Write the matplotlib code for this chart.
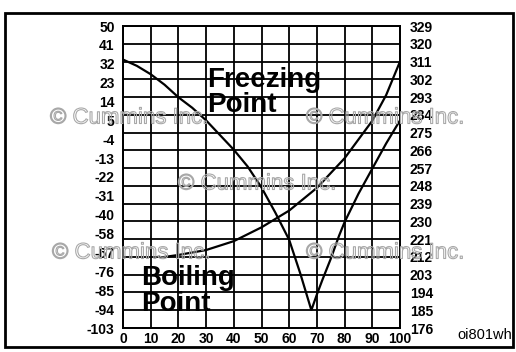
import numpy as np
import matplotlib
matplotlib.use("Agg")
import matplotlib.pyplot as plt
import matplotlib.patheffects as pe
from matplotlib.patches import Rectangle

# Glycol concentration (percent)
x_ticks = [0, 10, 20, 30, 40, 50, 60, 70, 80, 90, 100]

# Left axis: freezing point, degrees F (note the uneven -40 / -58 step)
left_ticks = [50, 41, 32, 23, 14, 5, -4, -13, -22, -31, -40, -58, -67, -76, -85, -94, -103]
# Right axis: boiling point, degrees F
right_ticks = [329, 320, 311, 302, 293, 284, 275, 266, 257, 248, 239, 230, 221, 212, 203, 194, 185, 176]

# Freezing point curve
freeze_pct = [0, 5, 10, 15, 20, 25, 30, 35, 40, 45, 50, 55, 60, 64, 68,
              70, 72, 75, 78, 80, 85, 90, 95, 100]
freeze_f = [34, 31, 27, 22, 16, 11, 5, -2, -9, -17, -27, -39, -61, -77, -94.5,
            -87, -80, -70, -59, -47, -30, -18, -6, 5]

# Boiling point curve
boil_pct = [15, 20, 30, 40, 50, 60, 70, 80, 90, 95, 100]
boil_f = [212, 213, 215.5, 220, 227, 235.5, 247, 262, 281, 294, 311]

W, H = 516, 352
fig = plt.figure(figsize=(W / 100, H / 100), dpi=100)
fig.patch.set_facecolor("white")

FONT = "Liberation Sans"


def px(x, y):
    return x / W, 1 - y / H


# Left axis scale: evenly spaced labels regardless of value step
vals_inc = np.array(left_ticks[::-1], dtype=float)
idx_inc = np.arange(len(vals_inc), dtype=float)


def fwd(v):
    return np.interp(v, vals_inc, idx_inc)


def inv(p):
    return np.interp(p, idx_inc, vals_inc)


ax = fig.add_axes([123 / W, 1 - 328 / H, 277 / W, 302 / H])
ax.set_yscale("function", functions=(fwd, inv))
ax.set_ylim(-103, 50)
ax.set_xlim(0, 100)
ax.set_yticks(left_ticks)
ax.set_yticklabels([str(v) for v in left_ticks])
ax.set_xticks(x_ticks)
ax.set_xticklabels([str(v) for v in x_ticks])
ax.tick_params(axis="both", length=0, labelsize=10)
ax.tick_params(axis="y", pad=6)
ax.tick_params(axis="x", pad=3)
for lab in ax.get_yticklabels() + ax.get_xticklabels():
    lab.set_fontfamily(FONT)
    lab.set_fontweight("bold")
ax.grid(True, axis="x", color="black", linewidth=1.3)
for s in ax.spines.values():
    s.set_linewidth(1.3)

ax.plot(freeze_pct, freeze_f, color="black", linewidth=1.6, solid_joinstyle="miter")

ax2 = ax.twinx()
ax2.set_ylim(176, 329)
ax2.set_yticks(right_ticks)
ax2.set_yticklabels([str(v) for v in right_ticks])
ax2.tick_params(axis="y", length=0, labelsize=10, pad=7)
for lab in ax2.get_yticklabels():
    lab.set_fontfamily(FONT)
    lab.set_fontweight("bold")
ax2.grid(True, axis="y", color="black", linewidth=1.3)
for s in ax2.spines.values():
    s.set_linewidth(1.3)
ax2.plot(boil_pct, boil_f, color="black", linewidth=1.6)

# Curve captions
big = dict(fontsize=20, fontweight="bold", family=FONT, va="baseline", ha="left")
fig.text(*px(207, 87), "Freezing", **big)
fig.text(*px(207, 112), "Point", **big)
fig.text(*px(141, 285), "Boiling", **big)
fig.text(*px(141, 311), "Point", **big)

# Copyright marks in hollow grey outline
wm = dict(fontsize=16, family=FONT, va="center", ha="left", color=(1, 1, 1, 0),
          zorder=10,
          path_effects=[pe.withStroke(linewidth=0.8, foreground="#a8a8a8")])
for (x, y) in [(50, 118), (306, 118), (178, 184), (52, 253), (306, 253)]:
    fig.text(*px(x, y), "\u00a9 Cummins Inc.", **wm)

fig.text(*px(457, 339), "oi801wh", fontsize=10.5, family=FONT, ha="left", va="baseline")

# Outer frame
fig.patches.append(Rectangle((5 / W, 1 - 347 / H), 508 / W, 334 / H, transform=fig.transFigure,
                             fill=False, edgecolor="black", linewidth=2))

fig.savefig("out.png", dpi=100, facecolor="white")
